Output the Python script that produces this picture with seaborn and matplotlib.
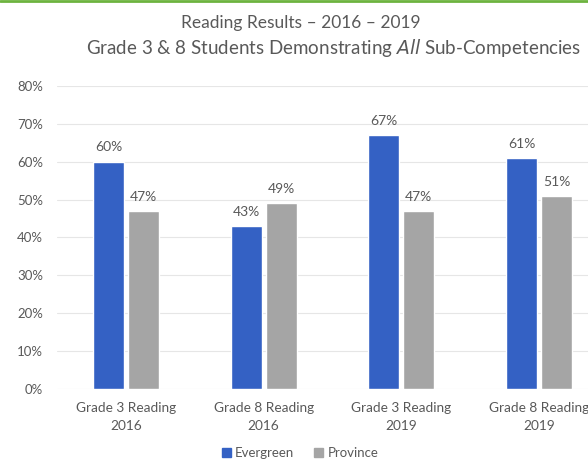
import numpy as np
import pandas as pd
import matplotlib
matplotlib.use("Agg")
import matplotlib.pyplot as plt
import seaborn as sns

# Dados
categorias = ["Grade 3 Reading\n2016", "Grade 8 Reading\n2016",
              "Grade 3 Reading\n2019", "Grade 8 Reading\n2019"]
evergreen = [0.60, 0.43, 0.67, 0.61]
province = [0.47, 0.49, 0.47, 0.51]
series = ["Evergreen", "Province"]
cores = ["#3461C4", "#A5A5A5"]

df = pd.DataFrame({
    "Categoria": categorias * 2,
    "Grupo": [series[0]] * len(categorias) + [series[1]] * len(categorias),
    "Valor": evergreen + province,
})

sns.set_style("white")
plt.rcParams["font.family"] = ["Lato", "DejaVu Sans"]
texto = "#595959"

fig = plt.figure(figsize=(5.88, 4.61), dpi=100)
# o gráfico original está cortado à direita
ax = fig.add_axes([57 / 588, 72 / 461, 551 / 588, 303 / 461])

sns.barplot(data=df, x="Categoria", y="Valor", hue="Grupo", palette=cores,
            width=0.507, gap=0.113, saturation=1, ax=ax, legend=False)

for cont in ax.containers:
    ax.bar_label(cont, labels=[f"{v:.0%}" for v in cont.datavalues],
                 padding=6, fontsize=10, color=texto)

ax.set_ylim(0, 0.8)
ax.set_xlim(-0.5, 3.5)
ax.set_yticks(np.arange(0, 0.81, 0.1))
ax.set_yticklabels([f"{int(round(t * 100))}%" for t in np.arange(0, 0.81, 0.1)])
ax.yaxis.grid(True, color="#E6E6E6", linewidth=0.8)
ax.set_axisbelow(True)
for s in ax.spines.values():
    s.set_visible(False)
ax.tick_params(axis="y", length=0, pad=10, labelsize=9.5, labelcolor=texto)
ax.tick_params(axis="x", length=0, pad=9, labelsize=9.8, labelcolor=texto)
for lbl in ax.get_xticklabels():
    lbl.set_linespacing(1.6)
ax.set_xlabel("")
ax.set_ylabel("")

# títulos
fig.text(301 / 588, 1 - 23 / 461, "Reading Results \u2013 2016 \u2013 2019",
         ha="center", va="center", fontsize=12.5, color=texto)
fig.text(334 / 588, 1 - 48 / 461,
         "Grade 3 & 8 Students Demonstrating $\\it{All}$ Sub-Competencies",
         ha="center", va="center", fontsize=13.5, color=texto)

# linha verde no topo
fig.add_artist(plt.Line2D([0, 1], [0.997, 0.997], color="#6DB33F",
                          linewidth=2, transform=fig.transFigure))

handles = [plt.Rectangle((0, 0), 1, 1, color=c) for c in cores]
fig.legend(handles, series, loc="center", bbox_to_anchor=(300 / 588, 1 - 453 / 461),
           ncol=2, frameon=False, fontsize=9.5, labelcolor=texto,
           handlelength=0.7, handleheight=0.7, handletextpad=0.3, columnspacing=1.5)

fig.savefig("out.png", dpi=100)
